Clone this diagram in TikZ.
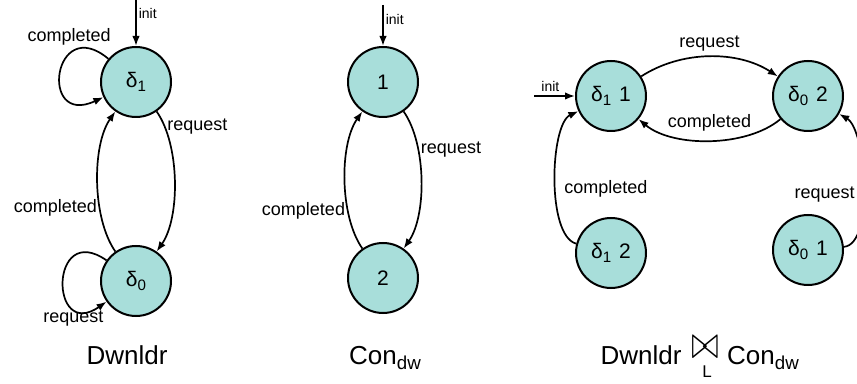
\documentclass[tikz,border=0pt]{standalone}
\usepackage{amsmath}
\usepackage{graphicx}
\usepackage{fontspec}
\setmainfont{Liberation Sans}
\usepackage{tikz}
\usetikzlibrary{arrows.meta}
\usetikzlibrary{positioning}
\definecolor{statefill}{RGB}{168,222,218}
\newcommand{\lowsub}[1]{\raisebox{-0.2em}{\scalebox{0.72}{#1}}}

\begin{document}
\begin{tikzpicture}[x=1pt,y=1pt,>={Latex[length=10pt,width=7.5pt]}]
		\tikzset{state/.style = {shape=circle,draw,line width=2pt,fill=statefill,minimum size=70pt,inner sep=0pt,font=\fontsize{21}{21}\selectfont}}
		\tikzset{trans/.style = {->,line width=1.7pt}}
		\tikzset{godown/.style = {out=-55,in=55,looseness=0.75}}
		\tikzset{goup/.style = {out=125,in=235,looseness=0.75}}
		\tikzset{lbl/.style = {font=\fontsize{18}{18}\selectfont,inner sep=2pt}}
		\tikzset{initlbl/.style = {font=\fontsize{14}{14}\selectfont,inner sep=2pt}}
		\tikzset{title/.style = {font=\fontsize{26}{26}\selectfont,anchor=base}}
		\useasboundingbox (0,0) rectangle (857,383);
		\clip (0,0) rectangle (857,383);
			\node[state] (d1) at (136,301) {δ\lowsub{1}};
			\node[state,below=127pt of d1] (d0) {δ\lowsub{0}};
			\node[state] (c1) at (383,301) {1};
			\node[state,below=124pt of c1] (c2) {2};
			\node[state] (p11) at (611,287) {δ\lowsub{1}\hspace{8pt}1};
			\node[state,right=125pt of p11] (p02) {δ\lowsub{0}\hspace{8pt}2};
			\node[state,below=85pt of p11] (p12) {δ\lowsub{1}\hspace{8pt}2};
			\node[state,below=82pt of p02] (p01) {δ\lowsub{0}\hspace{8pt}1};
			\coordinate (d1init) at ([yshift=46pt]d1.north);
			\coordinate (c1init) at ([yshift=41pt]c1.north);
			\coordinate (p11init) at ([xshift=-41pt]p11.west);
		\draw[trans] (d1init) -- node[initlbl,right,pos=0.3] {init} (d1);
		\draw[trans] (d1) to[godown] node[lbl,right,pos=0.13] {request} (d0);
		\draw[trans] (d0) to[goup] node[lbl,left,pos=0.33] {completed} (d1);
		\draw[trans] (d1) to[out=140,in=205,distance=72pt] node[lbl,above=6pt,pos=0.32] {completed} (d1);
		\draw[trans] (d0) to[out=145,in=215,distance=70pt] node[lbl,below=2pt,pos=0.74] {request} (d0);
		\draw[trans] (c1init) -- node[initlbl,right,pos=0.35] {init} (c1);
		\draw[trans] (c1) to[godown] node[lbl,right,pos=0.3] {request} (c2);
		\draw[trans] (c2) to[goup] node[lbl,left,pos=0.3] {completed} (c1);
		\draw[trans] (p11init) -- node[initlbl,above=2pt,pos=0.4] {init} (p11);
		\draw[trans] (p11) to[bend left=33,looseness=0.9] node[lbl,above=3pt] {request} (p02);
		\draw[trans] (p02) to[bend left=40,looseness=0.8] node[lbl,above=6pt] {completed} (p11);
		\draw[trans] (p12) to[out=165,in=205,looseness=0.6] node[lbl,right=6pt,pos=0.45] {completed} (p11);
		\draw[trans] (p01) to[out=5,in=-30,looseness=0.6] node[lbl,left=6pt,pos=0.45] {request} (p02);
			\node[title] (t1) at (127,19) {Dwnldr};
			\node[title] (t2) at (385,19) {Con\lowsub{dw}};
			\node[title] (t3) at (641,19) {Dwnldr};
			\node[title] (t4) at (763,19) {Con\lowsub{dw}};
			\node[inner sep=0pt,font=\fontsize{26}{26}\selectfont] (join) at (705,35) {\scalebox{1.35}[1.9]{$\bowtie$}};
			\node[inner sep=0pt,font=\fontsize{17}{17}\selectfont] (joinsub) at (707,11) {L};
\end{tikzpicture}
\end{document}
